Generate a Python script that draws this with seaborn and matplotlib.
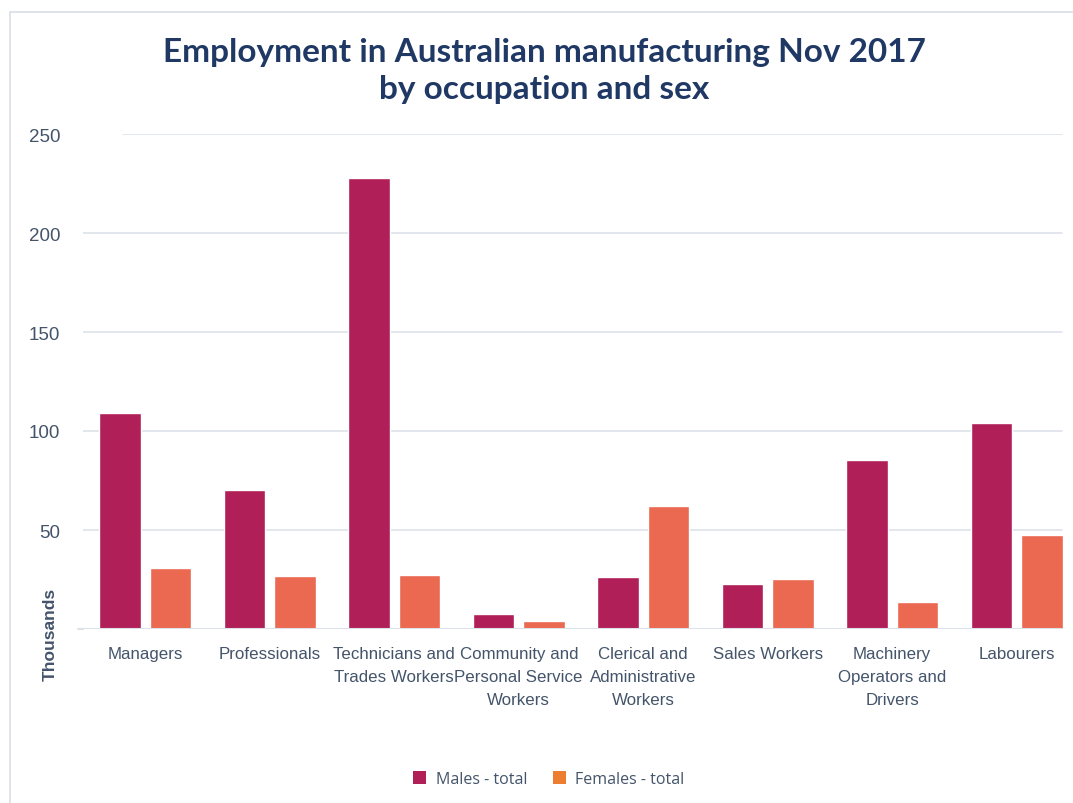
import matplotlib
matplotlib.use("Agg")
import matplotlib.pyplot as plt
from matplotlib.patches import Rectangle, Patch
import seaborn as sns
import pandas as pd

occupations = [
    "Managers", "Professionals", "Technicians and\nTrades Workers",
    "Community and\nPersonal Service\nWorkers", "Clerical and\nAdministrative\nWorkers",
    "Sales Workers", "Machinery\nOperators and\nDrivers", "Labourers",
]
males = [109.0, 70.2, 227.8, 7.6, 26.3, 22.7, 85.4, 104.2]
females = [30.8, 26.8, 27.3, 4.0, 62.1, 25.3, 13.6, 47.5]
series_names = ["Males - total", "Females - total"]
y_ticks = [50, 100, 150, 200, 250]

bar_colors = ["#B01F57", "#EB6851"]
legend_colors = ["#B01F57", "#ED7D31"]
text_color = "#44546A"
grid_color = "#DDE2EA"

df = pd.DataFrame({
    "occupation": occupations * 2,
    "value": males + females,
    "series": [series_names[0]] * len(occupations) + [series_names[1]] * len(occupations),
})

sns.set_style("white")
plt.rcParams["font.family"] = ["Liberation Sans", "DejaVu Sans"]

W, H = 1073, 804
ax_left, ax_right, ax_top, ax_bottom = 83, 1079, 135, 630
grid_left, grid_right = 78, 1062

fig = plt.figure(figsize=(W / 100, H / 100), dpi=100)
ax = fig.add_axes([ax_left / W, 1 - ax_bottom / H, (ax_right - ax_left) / W,
                   (ax_bottom - ax_top) / H])

# outer chart frame
fig.patches.append(Rectangle((10 / W, -0.01), 1.1, 1 - 13 / H + 0.01,
                             transform=fig.transFigure, fill=False,
                             edgecolor="#D9DDE5", linewidth=1.2, zorder=0))

sns.barplot(data=df, x="occupation", y="value", hue="series",
            palette=bar_colors, width=0.81, gap=0.17, dodge=True,
            saturation=1, legend=False, ax=ax, zorder=3)

ax.set_ylim(0, 250)
ax.set_xlim(-0.5, len(occupations) - 0.5)
ax.set_yticks(y_ticks)
ax.set_yticklabels([str(t) for t in y_ticks], color=text_color, fontsize=13.5)
ax.tick_params(axis="y", length=0, pad=(ax_left - 60) * 0.72)
ax.tick_params(axis="x", length=0, pad=12)
for lab in ax.get_xticklabels():
    lab.set_color(text_color)
    lab.set_fontsize(12.2)
    lab.set_linespacing(1.7)

span = ax_right - ax_left
gx_max = (grid_right - ax_left) / span
for t in y_ticks:
    start = (123 - ax_left) / span if t == 250 else 0
    ax.axhline(t, xmin=start, xmax=gx_max, color=grid_color, linewidth=1.2, zorder=0)
ax.axhline(0, xmin=0, xmax=gx_max, color=grid_color, linewidth=1.5, zorder=4)
fig.add_artist(plt.Line2D([grid_left / W, ax_left / W], [1 - ax_bottom / H] * 2,
                          color=grid_color, linewidth=1.5))

for side in ["top", "right", "left", "bottom"]:
    ax.spines[side].set_visible(False)
ax.set_xlabel("")
ax.set_ylabel("")

fig.text(50 / W, 1 - 634 / H, "Thousands", rotation=90, ha="center", va="center",
         color=text_color, fontsize=12.5, fontweight="bold")

fig.text(544 / W, 1 - 71 / H,
         "Employment in Australian manufacturing Nov 2017\nby occupation and sex",
         ha="center", va="center", color="#1F3864", fontsize=24, fontweight="bold",
         linespacing=1.32, family=["Lato", "DejaVu Sans"])

handles = [Patch(facecolor=c, edgecolor="none") for c in legend_colors]
fig.legend(handles, series_names, loc="center", bbox_to_anchor=(549 / W, 1 - 780 / H),
           ncol=2, frameon=False, handlelength=0.8, handleheight=0.8, columnspacing=1.6,
           handletextpad=0.6, prop={"family": ["Open Sans", "DejaVu Sans"], "size": 11.5},
           labelcolor=text_color)

fig.savefig("out.png", dpi=100)
